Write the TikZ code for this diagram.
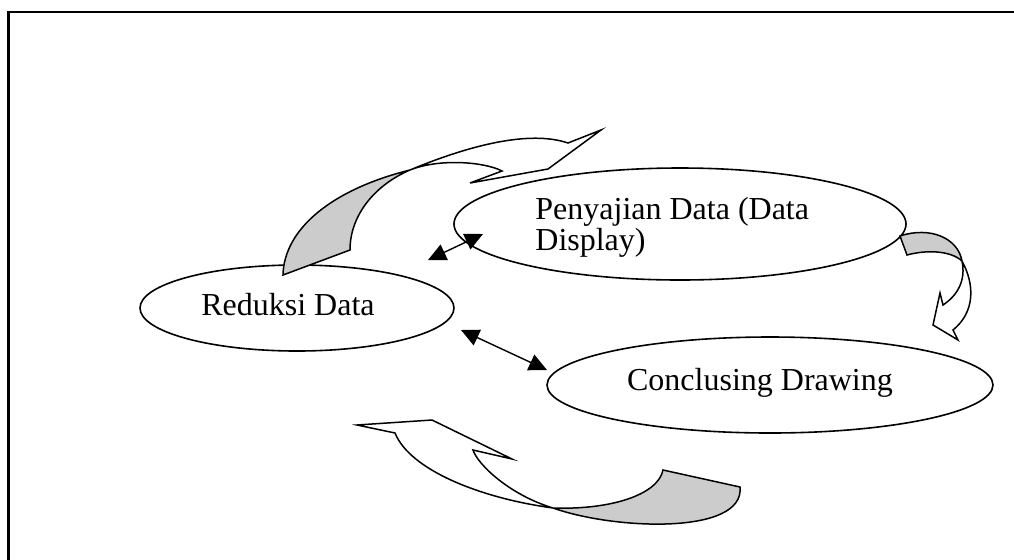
\documentclass[tikz,border=0pt]{standalone}
\usepackage{fontspec}
\setmainfont{Liberation Serif}
\usetikzlibrary{shapes.geometric,arrows.meta}
\begin{document}
\begin{tikzpicture}[x=0.5pt,y=-0.5pt,
 ell/.style={draw, ellipse, line width=0.8pt, inner sep=0pt},
 lbl/.style={font=\fontsize{16}{15.5}\selectfont, inner sep=0pt},
 dbl/.style={{Triangle[length=9pt,width=8.5pt]}-{Triangle[length=9pt,width=8.5pt]}, line width=0.7pt},
 blk/.style={draw, line width=0.75pt, line join=miter},
 shade/.style={fill=gray!40}
]
\useasboundingbox (0,0) rectangle (1014,559);
\clip (0,0) rectangle (1014,559);
\draw[line width=1.1pt] (8.5,12) rectangle (1040,600);

% ellipses
\node[ell, minimum width=157pt, minimum height=43pt] (red) at (297,308) {};
\node[ell, minimum width=226pt, minimum height=56pt] (pen) at (680,224) {};
\node[ell, minimum width=223pt, minimum height=48pt] (con) at (770,385) {};

% labels
\node[lbl, anchor=base] (redt) at (288,315) {Reduksi Data};
\node[lbl, anchor=base west, align=left] (pent) at (535,250) {Penyajian Data (Data\\Display)};
\node[lbl, anchor=base] (cont) at (760,390) {Conclusing Drawing};

% double arrows
\coordinate (a1) at (428,260);
\coordinate (a2) at (483,234);
\coordinate (b1) at (461,330);
\coordinate (b2) at (547,370);
\draw[dbl] (a1) -- (a2);
\draw[dbl] (b1) -- (b2);

% top-left curved block arrow
\fill[shade] (283,275) .. controls (284,230) and (330,190) .. (410,170)
  .. controls (375,185) and (350,215) .. (350,250) -- cycle;
\draw[blk] (283,275) .. controls (284,230) and (330,190) .. (410,170)
  .. controls (470,145) and (530,130) .. (568,143) -- (601,130) -- (548,169)
  -- (470,183) -- (502,171) .. controls (485,162) and (440,158) .. (410,170)
  .. controls (375,185) and (350,215) .. (350,250) -- cycle;

% right curved block arrow
\fill[shade] (900,236) .. controls (930,226) and (958,238) .. (962,261)
  .. controls (950,250) and (925,250) .. (907,255) -- cycle;
\draw[blk] (900,236) .. controls (930,226) and (958,238) .. (962,261)
  .. controls (975,285) and (975,312) .. (953,330) -- (958,340) -- (933,325)
  -- (940,293) -- (943,305) .. controls (958,295) and (966,280) .. (962,261)
  .. controls (950,250) and (925,250) .. (907,255) -- cycle;

% bottom curved block arrow
\fill[shade] (553,508) .. controls (615,530) and (745,535) .. (740,487)
  -- (663,470) .. controls (658,495) and (610,510) .. (553,508) -- cycle;
\draw[blk] (395,433) .. controls (410,470) and (480,498) .. (553,508)
  .. controls (615,530) and (745,535) .. (740,487) -- (663,470)
  .. controls (658,495) and (610,510) .. (553,508)
  .. controls (510,495) and (478,465) .. (473,450) -- (512,459) -- (432,420)
  -- (357,425) -- cycle;
\end{tikzpicture}
\end{document}
